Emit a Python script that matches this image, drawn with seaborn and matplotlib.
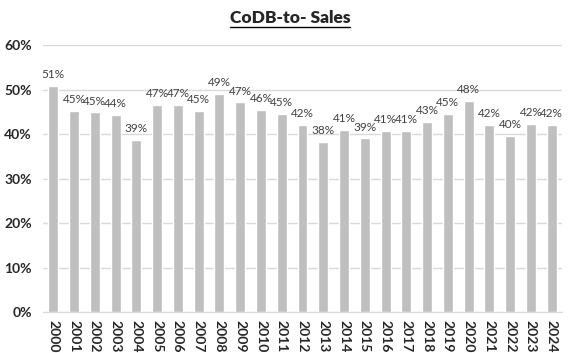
import pandas as pd
import matplotlib.pyplot as plt
import seaborn as sns
from matplotlib.lines import Line2D

years = [str(y) for y in range(2000, 2025)]
codb_to_sales = [50.9, 45.2, 44.9, 44.3, 38.7, 46.6, 46.6, 45.2, 49.1, 47.1,
                 45.5, 44.6, 42.1, 38.2, 41.0, 39.0, 40.7, 40.7, 42.8, 44.6,
                 47.5, 42.1, 39.6, 42.3, 42.1]
y_ticks = [0, 10, 20, 30, 40, 50, 60]

df = pd.DataFrame({"Year": years, "Ratio": codb_to_sales})

sns.set_style("white")
plt.rcParams["font.family"] = ["Lato", "DejaVu Sans"]

fig = plt.figure(figsize=(5.7, 3.53), dpi=100)
ax = fig.add_axes([0.0754, 0.116, 0.9106, 0.7565])

sns.barplot(data=df, x="Year", y="Ratio", color="#bfbfbf", width=0.48,
            saturation=1, ax=ax)

ax.bar_label(ax.containers[0], labels=[f"{v:.0f}%" for v in codb_to_sales],
             padding=4, fontsize=8.5, color="#404040")

ax.set_ylim(0, 60)
ax.set_xlim(-0.5, len(years) - 0.5)
ax.set_yticks(y_ticks)
ax.set_yticklabels([f"{t}%" for t in y_ticks], fontsize=10, fontweight="bold")
ax.tick_params(axis="x", labelrotation=-90, labelsize=10, length=0, pad=6)
for lbl in ax.get_xticklabels():
    lbl.set_fontweight("bold")
ax.tick_params(axis="y", length=0, pad=8)
ax.yaxis.grid(True, color="#d9d9d9", linewidth=1)
ax.set_axisbelow(True)
ax.set_xlabel("")
ax.set_ylabel("")
for side in ["top", "right", "left"]:
    ax.spines[side].set_visible(False)
ax.spines["bottom"].set_color("#d9d9d9")

title = fig.text(0.509, 0.95, "CoDB-to- Sales", ha="center", va="center",
                 fontsize=12.5, fontweight="heavy")
fig.canvas.draw()
bb = title.get_window_extent().transformed(fig.transFigure.inverted())
fig.add_artist(Line2D([bb.x0, bb.x1], [bb.y0 - 0.005, bb.y0 - 0.005],
                      color="black", linewidth=1, transform=fig.transFigure))

fig.savefig("out.png", dpi=100)
